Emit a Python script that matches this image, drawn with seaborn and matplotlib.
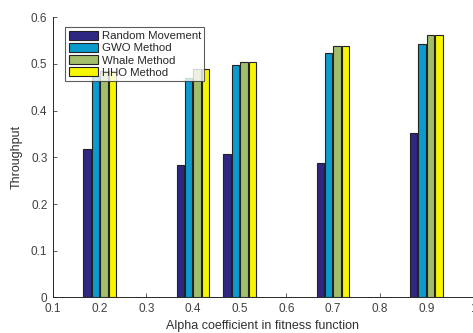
import matplotlib
matplotlib.use("Agg")
import matplotlib.pyplot as plt
import seaborn as sns
import pandas as pd

alphas = [0.2, 0.4, 0.5, 0.7, 0.9]
methods = ["Random Movement", "GWO Method", "Whale Method", "HHO Method"]
random_movement = [0.318, 0.284, 0.308, 0.287, 0.353]
gwo_method = [0.475, 0.470, 0.498, 0.523, 0.542]
whale_method = [0.485, 0.489, 0.504, 0.539, 0.563]
hho_method = [0.485, 0.489, 0.504, 0.539, 0.563]
colors = ["#2F2883", "#0A9BCF", "#A3BE6B", "#F8F500"]

series = [random_movement, gwo_method, whale_method, hho_method]
df = pd.DataFrame({
    "alpha": alphas * len(methods),
    "method": [m for m in methods for _ in alphas],
    "throughput": [v for s in series for v in s],
})

sns.set_style("white")
plt.rcParams["font.family"] = ["Liberation Sans", "DejaVu Sans"]

fig = plt.figure(figsize=(4.73, 3.33), dpi=100)
ax = fig.add_axes([0.112, 0.107, 0.888, 0.841])

sns.barplot(data=df, x="alpha", y="throughput", hue="method",
            hue_order=methods, palette=colors, native_scale=True,
            width=0.72, gap=0.12, edgecolor="#222222", linewidth=0.8,
            saturation=1, ax=ax)

ax.set_xlim(0.1, 1.0)
ax.set_ylim(0, 0.6)
ax.set_xticks([0.1, 0.2, 0.3, 0.4, 0.5, 0.6, 0.7, 0.8, 0.9, 1.0])
ax.set_xticklabels(["0.1", "0.2", "0.3", "0.4", "0.5", "0.6", "0.7", "0.8", "0.9", "1"])
ax.set_yticks([0, 0.1, 0.2, 0.3, 0.4, 0.5, 0.6])
ax.set_yticklabels(["0", "0.1", "0.2", "0.3", "0.4", "0.5", "0.6"])
ax.tick_params(axis="both", labelsize=8.5, colors="#404040", direction="in",
               length=3, width=0.6, left=True, bottom=True)
ax.tick_params(axis="x", pad=4)
ax.tick_params(axis="y", pad=4)
for side in ["top", "right"]:
    ax.spines[side].set_visible(False)
for side in ["left", "bottom"]:
    ax.spines[side].set_color("#262626")
    ax.spines[side].set_linewidth(0.7)

ax.set_xlabel("Alpha coefficient in fitness function", fontsize=9, color="#303030", labelpad=4)
ax.set_ylabel("Throughput", fontsize=9, color="#303030", labelpad=6)

leg = ax.legend(loc="upper left", bbox_to_anchor=(0.029, 0.964), fontsize=8.2,
                frameon=True, fancybox=False, handlelength=2.6, handleheight=0.9,
                handletextpad=0.3, borderpad=0.3, labelspacing=0.12,
                borderaxespad=0)
leg.get_frame().set_edgecolor("#333333")
leg.get_frame().set_linewidth(0.8)
for t in leg.get_texts():
    t.set_color("#262626")

fig.savefig("out.png", dpi=100)
